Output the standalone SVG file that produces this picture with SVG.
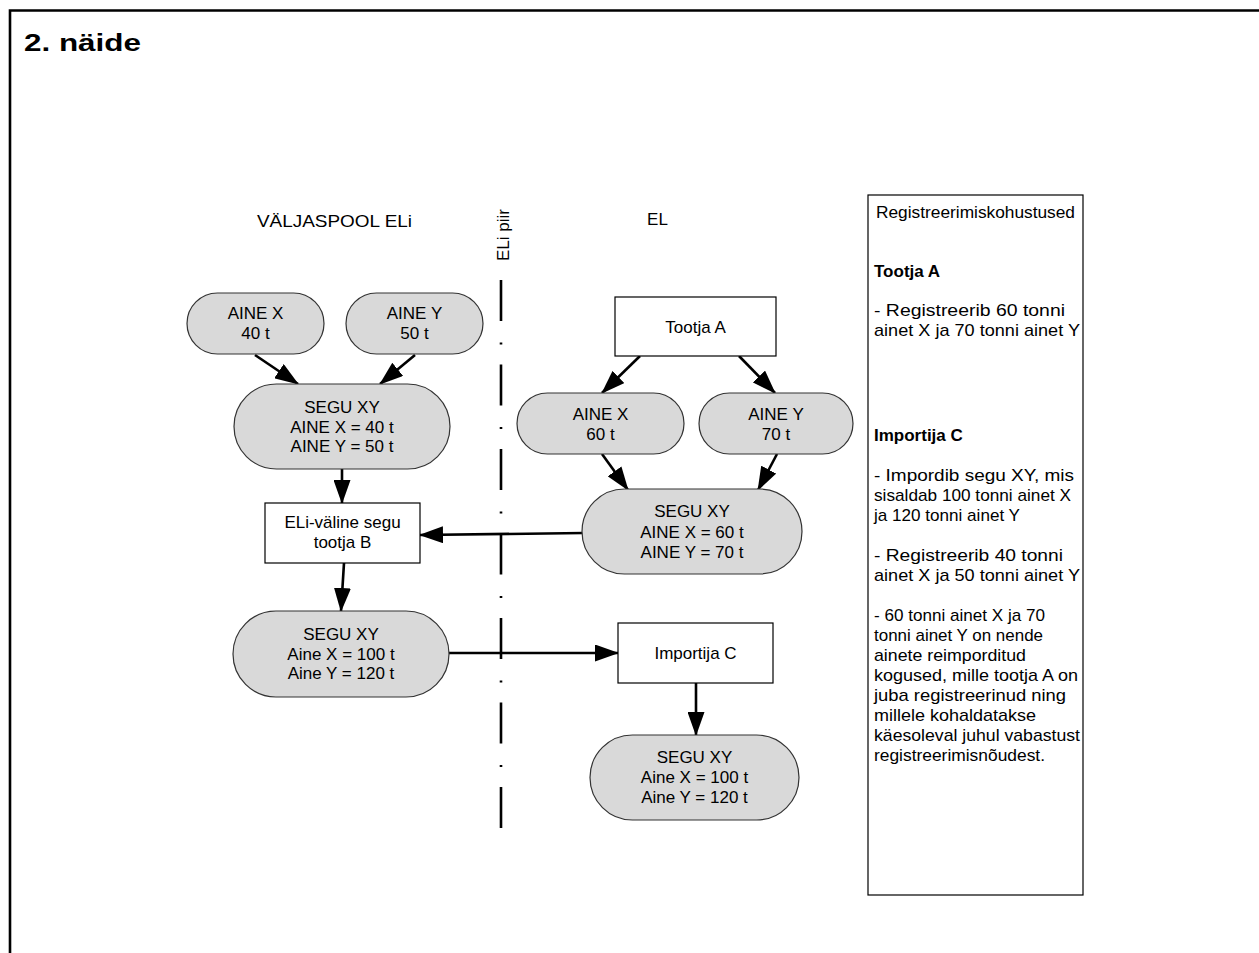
<svg xmlns="http://www.w3.org/2000/svg" width="1259" height="953" viewBox="0 0 1259 953">
  <style>
    text { font-family: "Liberation Sans", Arial, sans-serif; font-size: 17px; fill: #000; }
    .c { text-anchor: middle; }
    .b { font-weight: bold; }
    .pill { fill: #d9d9d9; stroke: #333; stroke-width: 1.2; }
    .box { fill: #fff; stroke: #000; stroke-width: 1.2; }
    .conn { fill: none; stroke: #000; stroke-width: 2.6; marker-end: url(#head); }
  </style>
  <defs>
    <marker id="head" markerUnits="userSpaceOnUse" viewBox="0 0 24 17" markerWidth="24" markerHeight="17" refX="23" refY="8.5" orient="auto">
      <path d="M0,0 L24,8.5 L0,17 z" fill="#000"/>
    </marker>
  </defs>

  <rect width="1259" height="953" fill="#fff"/>

  <!-- page frame -->
  <path d="M10,953 V10.5 H1259" fill="none" stroke="#000" stroke-width="2.6"/>

  <text x="24" y="51" class="b" style="font-size:23px" textLength="117" lengthAdjust="spacingAndGlyphs">2. näide</text>

  <!-- zone headings -->
  <text x="334.5" y="227" class="c" textLength="155" lengthAdjust="spacingAndGlyphs">VÄLJASPOOL ELi</text>
  <text x="657.5" y="225" class="c">EL</text>
  <text transform="translate(509,235) rotate(-90)" class="c">ELi piir</text>

  <!-- EU border line -->
  <line x1="501" y1="280" x2="501" y2="829" stroke="#000" stroke-width="2.6" stroke-dasharray="41 21.5 2 20"/>

  <!-- connectors -->
  <g id="connectors">
    <path class="conn" d="M255,355 L298,384"/>
    <path class="conn" d="M415,355 L380,384"/>
    <path class="conn" d="M342,469 L342,503"/>
    <path class="conn" d="M344,563 L341,611"/>
    <path class="conn" d="M584,533 L420,535"/>
    <path class="conn" d="M449,653 L618,653"/>
    <path class="conn" d="M696,683 L696,735"/>
    <path class="conn" d="M640,356 L602,393"/>
    <path class="conn" d="M739,356 L775,393"/>
    <path class="conn" d="M602,454 L628,490"/>
    <path class="conn" d="M777,454 L758,490"/>
  </g>

  <!-- outside the EU -->
  <g id="aine-x-40">
    <rect class="pill" x="187" y="293" width="137" height="61" rx="30.5"/>
    <text x="255.5" y="319" class="c">AINE X</text>
    <text x="255.5" y="339" class="c">40 t</text>
  </g>
  <g id="aine-y-50">
    <rect class="pill" x="346" y="293" width="137" height="61" rx="30.5"/>
    <text x="414.5" y="319" class="c">AINE Y</text>
    <text x="414.5" y="339" class="c">50 t</text>
  </g>
  <g id="segu-xy-40-50">
    <rect class="pill" x="234" y="384" width="216" height="85" rx="42.5"/>
    <text x="342" y="413" class="c">SEGU XY</text>
    <text x="342" y="432.5" class="c">AINE X = 40 t</text>
    <text x="342" y="452" class="c">AINE Y = 50 t</text>
  </g>
  <g id="tootja-b">
    <rect class="box" x="265" y="503" width="155" height="60"/>
    <text x="342.5" y="528" class="c">ELi-väline segu</text>
    <text x="342.5" y="548" class="c">tootja B</text>
  </g>
  <g id="segu-xy-100-120-out">
    <rect class="pill" x="233" y="611" width="216" height="86" rx="43"/>
    <text x="341" y="640" class="c">SEGU XY</text>
    <text x="341" y="659.5" class="c">Aine X = 100 t</text>
    <text x="341" y="678.5" class="c">Aine Y = 120 t</text>
  </g>

  <!-- inside the EU -->
  <g id="tootja-a">
    <rect class="box" x="615" y="297" width="161" height="59"/>
    <text x="695.5" y="333" class="c">Tootja A</text>
  </g>
  <g id="aine-x-60">
    <rect class="pill" x="517" y="393" width="167" height="61" rx="30.5"/>
    <text x="600.5" y="420" class="c">AINE X</text>
    <text x="600.5" y="439.5" class="c">60 t</text>
  </g>
  <g id="aine-y-70">
    <rect class="pill" x="699" y="393" width="154" height="61" rx="30.5"/>
    <text x="776" y="420" class="c">AINE Y</text>
    <text x="776" y="439.5" class="c">70 t</text>
  </g>
  <g id="segu-xy-60-70">
    <rect class="pill" x="582" y="489" width="220" height="85" rx="42.5"/>
    <text x="692" y="517" class="c">SEGU XY</text>
    <text x="692" y="537.5" class="c">AINE X = 60 t</text>
    <text x="692" y="558" class="c">AINE Y = 70 t</text>
  </g>
  <g id="importija-c">
    <rect class="box" x="618" y="623" width="155" height="60"/>
    <text x="695.5" y="659" class="c">Importija C</text>
  </g>
  <g id="segu-xy-100-120-in">
    <rect class="pill" x="590" y="735" width="209" height="85" rx="42.5"/>
    <text x="694.5" y="763" class="c">SEGU XY</text>
    <text x="694.5" y="783" class="c">Aine X = 100 t</text>
    <text x="694.5" y="803" class="c">Aine Y = 120 t</text>
  </g>

  <!-- registration duties panel -->
  <g id="registreerimiskohustused">
    <rect class="box" x="868" y="195" width="215" height="700"/>
    <text x="975.5" y="218" class="c" textLength="199" lengthAdjust="spacingAndGlyphs">Registreerimiskohustused</text>
    <text x="874" y="277" class="b">Tootja A</text>
    <text x="874" y="316" textLength="191" lengthAdjust="spacingAndGlyphs">- Registreerib 60 tonni</text>
    <text x="874" y="336" textLength="206" lengthAdjust="spacingAndGlyphs">ainet X ja 70 tonni ainet Y</text>
    <text x="874" y="441" class="b">Importija C</text>
    <text x="874" y="481" textLength="200" lengthAdjust="spacingAndGlyphs">- Impordib segu XY, mis</text>
    <text x="874" y="501" textLength="197" lengthAdjust="spacingAndGlyphs">sisaldab 100 tonni ainet X</text>
    <text x="874" y="521" textLength="146" lengthAdjust="spacingAndGlyphs">ja 120 tonni ainet Y</text>
    <text x="874" y="561" textLength="189" lengthAdjust="spacingAndGlyphs">- Registreerib 40 tonni</text>
    <text x="874" y="581" textLength="206" lengthAdjust="spacingAndGlyphs">ainet X ja 50 tonni ainet Y</text>
    <text x="874" y="621" textLength="171" lengthAdjust="spacingAndGlyphs">- 60 tonni ainet X ja 70</text>
    <text x="874" y="641" textLength="169" lengthAdjust="spacingAndGlyphs">tonni ainet Y on nende</text>
    <text x="874" y="661" textLength="152" lengthAdjust="spacingAndGlyphs">ainete reimporditud</text>
    <text x="874" y="681" textLength="204" lengthAdjust="spacingAndGlyphs">kogused, mille tootja A on</text>
    <text x="874" y="701" textLength="192" lengthAdjust="spacingAndGlyphs">juba registreerinud ning</text>
    <text x="874" y="721" textLength="162" lengthAdjust="spacingAndGlyphs">millele kohaldatakse</text>
    <text x="874" y="741" textLength="206" lengthAdjust="spacingAndGlyphs">käesoleval juhul vabastust</text>
    <text x="874" y="761" textLength="171" lengthAdjust="spacingAndGlyphs">registreerimisnõudest.</text>
  </g>
</svg>
